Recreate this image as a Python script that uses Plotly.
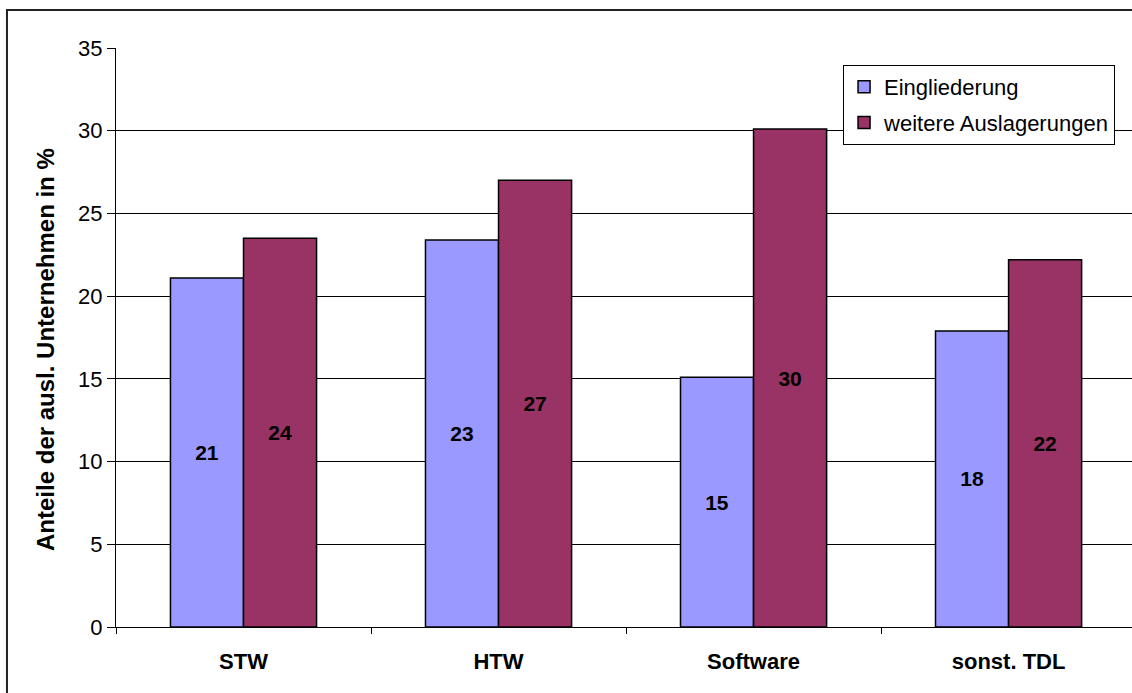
import plotly.graph_objects as go

# Daten
kategorien = ["STW", "HTW", "Software", "sonst. TDL"]
eingliederung = [21.1, 23.4, 15.1, 17.9]
weitere_auslagerungen = [23.5, 27.0, 30.1, 22.2]
y_ticks = [0, 5, 10, 15, 20, 25, 30, 35]

schrift = "Arial, Liberation Sans, sans-serif"

fig = go.Figure()
fig.add_trace(go.Bar(
    x=kategorien,
    y=eingliederung,
    name="Eingliederung",
    legendgroup="a",
    marker=dict(color="#9999FF", line=dict(color="black", width=1.5)),
    texttemplate="%{y:.0f}",
    textposition="inside",
    insidetextanchor="middle",
    textangle=0,
    textfont=dict(family=schrift, size=21, color="black", weight="bold"),
))
fig.add_trace(go.Bar(
    x=kategorien,
    y=weitere_auslagerungen,
    name="weitere Auslagerungen",
    legendgroup="b",
    marker=dict(color="#993366", line=dict(color="black", width=1.5)),
    texttemplate="%{y:.0f}",
    textposition="inside",
    insidetextanchor="middle",
    textangle=0,
    textfont=dict(family=schrift, size=21, color="black", weight="bold"),
))

# X-Achse: Kategorien, Striche an den Grenzen
fig.update_xaxes(
    type="category",
    range=[-0.5, 3.484],
    tickson="boundaries",
    ticks="outside",
    ticklen=6,
    tickcolor="black",
    showline=True,
    linecolor="black",
    linewidth=1,
    showgrid=False,
    tickfont=dict(family=schrift, size=22, color="black", weight="bold"),
    ticklabelstandoff=15,
)

# Y-Achse
fig.update_yaxes(
    range=[0, 35],
    tickvals=y_ticks,
    ticks="outside",
    ticklen=8,
    tickcolor="black",
    showline=True,
    linecolor="black",
    linewidth=1,
    showgrid=True,
    gridcolor="black",
    gridwidth=1,
    zeroline=False,
    tickfont=dict(family=schrift, size=22, color="black"),
)

# Achsentitel als Annotation
fig.add_annotation(
    text="<b>Anteile der ausl. Unternehmen in %</b>",
    xref="paper", yref="paper",
    x=-0.07, y=0.48,
    xanchor="center", yanchor="middle",
    textangle=-90,
    showarrow=False,
    font=dict(family=schrift, size=24, color="black"),
)

# Rahmen um das Diagramm
fig.add_shape(
    type="rect",
    xref="paper", yref="paper",
    x0=-0.1073, x1=1.1, y0=-0.2, y1=1.0656,
    line=dict(color="#222222", width=2),
    layer="below",
)

fig.update_layout(
    barmode="group",
    bargap=0.427,
    bargroupgap=0,
    width=1132,
    height=693,
    margin=dict(l=116, r=0, t=48, b=66),
    plot_bgcolor="white",
    paper_bgcolor="white",
    font=dict(family=schrift, size=22, color="black"),
    legend=dict(
        x=0.7156, y=0.9706,
        xanchor="left", yanchor="top",
        bgcolor="white",
        bordercolor="black",
        borderwidth=1,
        traceorder="grouped",
        tracegroupgap=4,
        font=dict(family=schrift, size=22, color="black"),
    ),
)

fig.write_html(
    "out.html",
    config={"displayModeBar": False},
    post_script="document.body.style.margin='0';",
)
